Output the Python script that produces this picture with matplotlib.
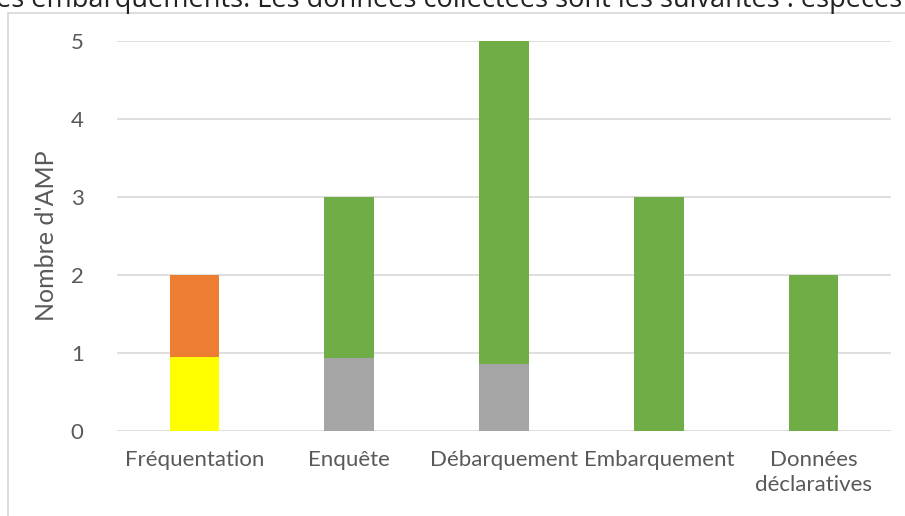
import numpy as np
import matplotlib.pyplot as plt
from matplotlib.patches import Rectangle

# Data
categories = ['Fréquentation', 'Enquête', 'Débarquement', 'Embarquement', 'Données\ndéclaratives']
yellow_vals = [0.95, 0, 0, 0, 0]
orange_vals = [1.05, 0, 0, 0, 0]
grey_vals = [0, 0.93, 0.86, 0, 0]
green_vals = [0, 2.07, 4.14, 3, 2]

plt.rcParams['font.family'] = ['Lato', 'DejaVu Sans']

fig = plt.figure(figsize=(9.05, 5.16), dpi=100)
ax = fig.add_axes([117 / 905, 1 - 431 / 516, (891 - 117) / 905, (431 - 41) / 516])

x = np.arange(len(categories))
w = 0.32
bottom = np.zeros(len(categories))
for vals, col in [(yellow_vals, '#FFFF00'), (orange_vals, '#ED7D31'),
                  (grey_vals, '#A5A5A5'), (green_vals, '#70AD47')]:
    vals = np.array(vals)
    ax.bar(x, vals, w, bottom=bottom, color=col, zorder=3)
    bottom += vals

ax.set_xlim(-0.5, len(categories) - 0.5)
ax.set_ylim(0, 5)
ax.set_yticks(range(6))
ax.set_xticks(x)
ax.set_xticklabels(categories, linespacing=1.3)
ax.yaxis.grid(True, color='#d9d9d9', lw=1.2, zorder=0)
ax.set_axisbelow(True)
for s in ax.spines.values():
    s.set_visible(False)
ax.tick_params(length=0, labelcolor='#595959')
ax.tick_params(axis='x', labelsize=16, pad=14)
ax.tick_params(axis='y', labelsize=16, pad=24)
ax.set_ylabel("Nombre d'AMP", fontsize=18, color='#595959')
ax.yaxis.set_label_coords(-59 / 774, 0.5)

# chart frame and document text above it
fig.patches.append(Rectangle((8 / 905, -0.05), 1.0, 1.05 - 13 / 516,
                             transform=fig.transFigure, fill=False,
                             edgecolor='#d9d9d9', lw=1.3))
fig.text(-0.004, 1 - 7 / 516, 'es embarquements. Les données collectées sont les suivantes : espèces',
         fontsize=19.5, color='#222222', va='baseline', ha='left', family=['Open Sans', 'DejaVu Sans'])

fig.savefig('out.png', dpi=100)
